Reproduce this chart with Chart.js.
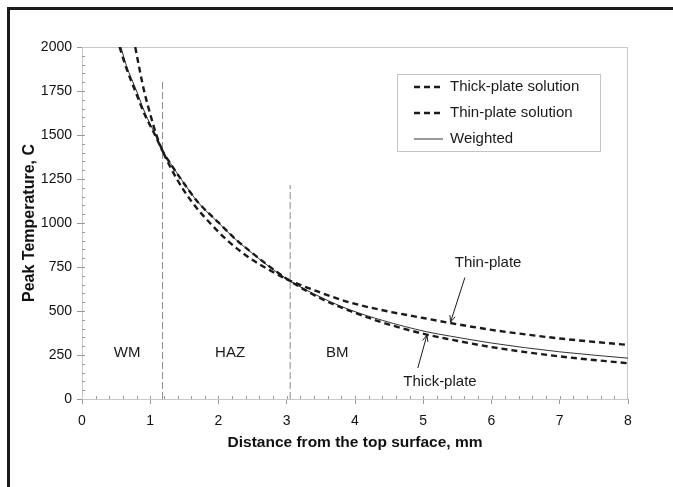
<!DOCTYPE html>
<html>
<head>
<meta charset="utf-8">
<script src="https://cdn.jsdelivr.net/npm/chart.js@4.4.0/dist/chart.umd.min.js"></script>
<style>
  html, body { margin: 0; padding: 0; background: #fff; }
  #wrap { position: relative; width: 673px; height: 487px; overflow: hidden; }
  #chart { position: absolute; left: 0; top: 0; }
  #frame { position: absolute; left: 7px; top: 7px; width: 700px; height: 600px;
           border-left: 3px solid #1c1c1c; border-top: 3px solid #1c1c1c; }
</style>
</head>
<body>
<div id="wrap">
  <canvas id="chart" width="673" height="487"></canvas>
  <div id="frame"></div>
</div>
<script>
// distance from top surface (mm) and peak temperature (C)
const thickX = [0.55, 0.65, 0.78, 0.92, 1.07, 1.18, 1.3, 1.47, 1.7, 2.0, 2.25, 2.5, 2.75, 3.05, 3.5, 3.93, 4.4, 5.05, 5.4, 6.0, 7.0, 8.0]
const thickT = [2000, 1880, 1750, 1615, 1500, 1410, 1335, 1238, 1118, 1003, 908, 828, 752, 670, 571, 500, 435, 366, 338, 295, 242, 203]

const thinX = [0.78, 0.85, 0.91, 1.0, 1.09, 1.18, 1.39, 1.6, 1.875, 2.15, 2.46, 2.75, 3.05, 3.5, 3.93, 4.37, 5.0, 5.39, 6.0, 7.0, 8.0]
const thinT = [2000, 1860, 1750, 1618, 1500, 1410, 1250, 1125, 1000, 894, 800, 732, 672, 604, 548, 507, 460, 432, 393, 344, 307]

const weightedX = [0.57, 0.65, 0.8, 0.92, 1.07, 1.18, 1.3, 1.47, 1.7, 2.0, 2.25, 2.5, 2.75, 3.05, 3.5, 3.93, 4.4, 5.05, 5.4, 6.0, 7.0, 8.0]
const weightedT = [2000, 1895, 1750, 1628, 1505, 1410, 1337, 1240, 1118, 1001, 907, 826, 750, 670, 578, 506, 447, 382, 357, 318, 268, 232]

const zoneBoundaryX = [1.18, 3.05]
const zoneBoundaryTop = [1810, 1216]
const zoneNames = ['WM', 'HAZ', 'BM']
const seriesNames = ['Thick-plate solution', 'Thin-plate solution', 'Weighted']

const xTicks = [0, 1, 2, 3, 4, 5, 6, 7, 8]
const yTicks = [0, 250, 500, 750, 1000, 1250, 1500, 1750, 2000]

// where the text notes sit, in axis units
const notes = {
  zoneX: [0.66, 2.17, 3.74], zoneY: 265,
  arrows: [
    { text: 'Thin-plate', at: [5.95, 773], from: [5.61, 690], to: [5.40, 437] },
    { text: 'Thick-plate', at: [5.245, 97], from: [4.92, 176], to: [5.055, 364] }
  ]
}

const FONT = 'Liberation Sans, Arial, Helvetica, sans-serif'
Chart.defaults.font.family = FONT
Chart.defaults.color = '#111'

const pts = (xs, ys) => xs.map((x, i) => ({ x: x, y: ys[i] }))

const curve = (label, xs, ys, width, dash, color) => ({
  label: label,
  data: pts(xs, ys),
  borderColor: color,
  borderWidth: width,
  borderDash: dash,
  pointRadius: 0,
  showLine: true,
  fill: false,
  cubicInterpolationMode: 'monotone'
})

const boundaries = zoneBoundaryX.map((x, i) => ({
  label: 'boundary',
  data: [{ x: x, y: 0 }, { x: x, y: zoneBoundaryTop[i] }],
  borderColor: '#8a8a8a',
  borderWidth: 1,
  borderDash: [7, 3],
  pointRadius: 0,
  showLine: true,
  fill: false
}))

function arrow(ctx, x1, y1, x2, y2) {
  const a = Math.atan2(y2 - y1, x2 - x1)
  const h = 7
  ctx.beginPath()
  ctx.moveTo(x1, y1)
  ctx.lineTo(x2, y2)
  ctx.moveTo(x2 - h * Math.cos(a - 0.4), y2 - h * Math.sin(a - 0.4))
  ctx.lineTo(x2, y2)
  ctx.lineTo(x2 - h * Math.cos(a + 0.4), y2 - h * Math.sin(a + 0.4))
  ctx.stroke()
}

const extras = {
  id: 'extras',
  beforeDatasetsDraw(chart) {
    const { ctx, chartArea: ca, scales: { x, y } } = chart
    ctx.save()
    // plot frame
    ctx.strokeStyle = '#c8c8c8'
    ctx.lineWidth = 1
    ctx.strokeRect(ca.left + 0.5, ca.top + 0.5, ca.right - ca.left - 1, ca.bottom - ca.top)
    // minor ticks
    ctx.strokeStyle = '#9a9a9a'
    ctx.beginPath()
    for (let v = 0.2; v < 8; v += 0.2) {
      const px = Math.round(x.getPixelForValue(v)) + 0.5
      ctx.moveTo(px, ca.bottom); ctx.lineTo(px, ca.bottom - 3)
    }
    for (let v = 50; v < 2000; v += 50) {
      const py = Math.round(y.getPixelForValue(v)) + 0.5
      ctx.moveTo(ca.left, py); ctx.lineTo(ca.left + 3, py)
    }
    ctx.stroke()
    ctx.restore()
  },
  afterDraw(chart) {
    const { ctx, chartArea: ca, scales: { x, y } } = chart
    ctx.save()
    ctx.fillStyle = '#1a1a1a'
    ctx.font = '15px ' + FONT
    ctx.textAlign = 'center'
    ctx.textBaseline = 'middle'
    zoneNames.forEach((n, i) => {
      ctx.fillText(n, x.getPixelForValue(notes.zoneX[i]), y.getPixelForValue(notes.zoneY))
    })
    ctx.strokeStyle = '#1a1a1a'
    ctx.lineWidth = 1
    notes.arrows.forEach(a => {
      ctx.fillText(a.text, x.getPixelForValue(a.at[0]), y.getPixelForValue(a.at[1]))
      arrow(ctx, x.getPixelForValue(a.from[0]), y.getPixelForValue(a.from[1]),
        x.getPixelForValue(a.to[0]), y.getPixelForValue(a.to[1]))
    })

    // legend
    const lx = ca.left + 315, ly = ca.top + 27, lw = 203, lh = 77
    ctx.fillStyle = '#fff'
    ctx.fillRect(lx, ly, lw, lh)
    ctx.strokeStyle = '#c4c4c4'
    ctx.strokeRect(lx + 0.5, ly + 0.5, lw, lh)
    ctx.textAlign = 'left'
    chart.data.datasets.slice(0, 3).forEach((ds, i) => {
      const ry = ly + 13 + i * 26
      ctx.strokeStyle = ds.borderColor
      ctx.lineWidth = ds.borderWidth
      ctx.setLineDash(ds.borderDash || [])
      ctx.beginPath()
      ctx.moveTo(lx + 17, ry); ctx.lineTo(lx + 46, ry)
      ctx.stroke()
      ctx.setLineDash([])
      ctx.fillStyle = '#1a1a1a'
      ctx.fillText(ds.label, lx + 53, ry)
    })
    ctx.restore()
  }
}

new Chart(document.getElementById('chart'), {
  type: 'scatter',
  data: {
    datasets: [
      curve(seriesNames[0], thickX, thickT, 2.4, [6, 4], '#1a1a1a'),
      curve(seriesNames[1], thinX, thinT, 2.4, [6, 4], '#1a1a1a'),
      curve(seriesNames[2], weightedX, weightedT, 1, [], '#333'),
      ...boundaries
    ]
  },
  options: {
    responsive: false,
    animation: false,
    layout: { padding: { left: 0, top: 47, right: 45, bottom: 0 } },
    plugins: { legend: { display: false }, tooltip: { enabled: false } },
    scales: {
      x: {
        type: 'linear', min: 0, max: 8,
        afterBuildTicks: s => { s.ticks = xTicks.map(v => ({ value: v })) },
        afterFit: s => { s.height = 88 },
        ticks: { font: { size: 14 }, color: '#111', padding: 9, maxRotation: 0, callback: v => String(v) },
        grid: { drawOnChartArea: false, color: '#9a9a9a', tickLength: 5 },
        border: { color: '#9a9a9a' },
        title: { display: true, text: 'Distance from the top surface, mm', color: '#111',
          font: { size: 15.5, weight: 'bold' }, padding: { top: 0, bottom: 35 } }
      },
      y: {
        type: 'linear', min: 0, max: 2000,
        afterBuildTicks: s => { s.ticks = yTicks.map(v => ({ value: v })) },
        afterFit: s => { s.width = 82 },
        ticks: { font: { size: 14 }, color: '#111', padding: 5, callback: v => String(v) },
        grid: { drawOnChartArea: false, color: '#9a9a9a', tickLength: 5 },
        border: { color: '#9a9a9a' },
        title: { display: true, text: 'Peak Temperature, C', color: '#111',
          font: { size: 16, weight: 'bold' }, padding: { top: 20, bottom: 0 } }
      }
    }
  },
  plugins: [extras]
})
</script>
</body>
</html>
